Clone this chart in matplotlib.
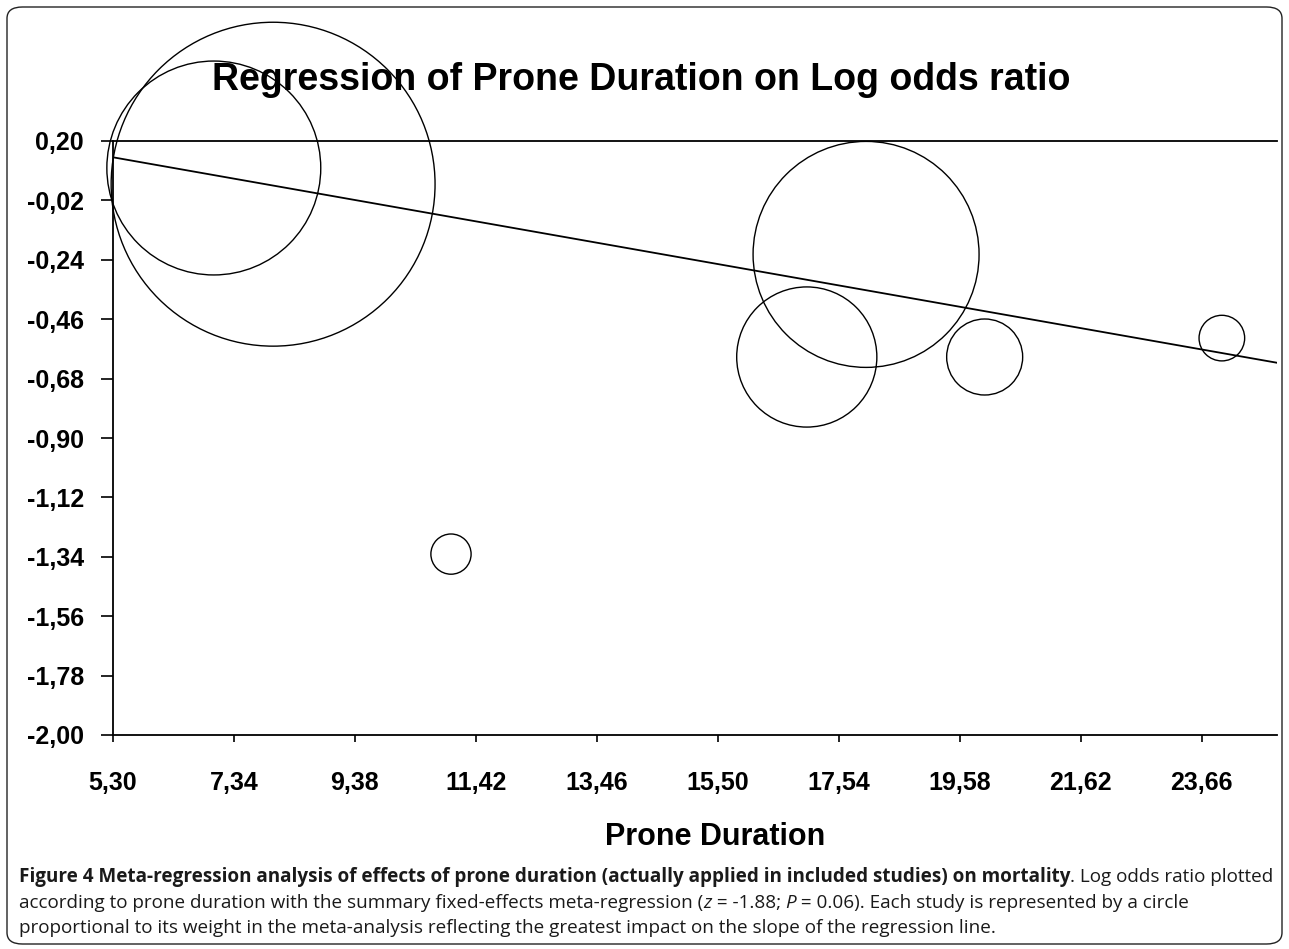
import numpy as np
import matplotlib
matplotlib.use("Agg")
import matplotlib.pyplot as plt
from matplotlib.patches import FancyBboxPatch

# ---- data ----
prone_duration = [7, 8, 11, 17, 18, 20, 24]
log_odds_ratio = [0.10, 0.04, -1.33, -0.60, -0.22, -0.60, -0.53]
study_weight_pct = [19.8, 45.4, 0.7, 8.5, 22.1, 2.5, 0.9]
x_ticks = [5.30, 7.34, 9.38, 11.42, 13.46, 15.50, 17.54, 19.58, 21.62, 23.66]
y_ticks = [0.20, -0.02, -0.24, -0.46, -0.68, -0.90, -1.12, -1.34, -1.56, -1.78, -2.00]

title = "Regression of Prone Duration on Log odds ratio"
xlabel = "Prone Duration"

W, H = 1289, 949
fig = plt.figure(figsize=(W / 100, H / 100), dpi=100)
fig.patch.set_facecolor("white")

# outer rounded border
border = FancyBboxPatch((7 / W, 5 / H), (1282 - 7) / W, (942 - 5) / H,
                        boxstyle="round,pad=0,rounding_size=0.012",
                        transform=fig.transFigure, fill=False,
                        edgecolor="#222222", linewidth=1.0)
fig.patches.append(border)

ax_left, ax_right, ax_top, ax_bottom = 113, 1277, 141, 735
ax = fig.add_axes([ax_left / W, 1 - ax_bottom / H,
                   (ax_right - ax_left) / W, (ax_bottom - ax_top) / H])
ax.set_xlim(5.30, 24.93)
ax.set_ylim(-2.00, 0.20)

ax.spines["right"].set_visible(False)
for side in ["left", "bottom", "top"]:
    ax.spines[side].set_linewidth(1.3)
    ax.spines[side].set_color("black")

x = np.array(prone_duration, dtype=float)
y = np.array(log_odds_ratio, dtype=float)
w = np.array(study_weight_pct, dtype=float)

# circles: area proportional to study weight
area_per_pct = 1198.0
ax.scatter(x, y, s=w * area_per_pct, facecolors="none", edgecolors="black",
           linewidths=1.0, clip_on=False, zorder=3)

# weighted regression line
slope, intercept = np.polyfit(x, y, 1, w=np.sqrt(w))
xl = np.array(ax.get_xlim())
ax.plot(xl, intercept + slope * xl, color="black", linewidth=1.3, zorder=2)

tick_font = dict(family="Liberation Sans", weight="bold", size=18)
ax.set_xticks(x_ticks)
ax.set_xticklabels([f"{v:.2f}".replace(".", ",") for v in x_ticks], fontdict=tick_font)
ax.set_yticks(y_ticks)
ax.set_yticklabels([f"{v:.2f}".replace(".", ",") for v in y_ticks], fontdict=tick_font)
ax.tick_params(axis="y", direction="out", length=9, width=1.2, pad=12, colors="black")
ax.tick_params(axis="x", direction="out", length=5, width=1.2, pad=21, colors="black")

fig.text(641 / W, 1 - 80 / H, title, ha="center", va="center",
         family="Liberation Sans", weight="bold", size=27)
fig.text(715 / W, 1 - 837 / H, xlabel, ha="center", va="center",
         family="Liberation Sans", weight="bold", size=22)

# caption with mixed styles
cap_font = "Open Sans"
cap_size = 13.6
lines = [
    [("Figure 4 Meta-regression analysis of effects of prone duration (actually applied in included studies) on mortality", "bold", "normal"),
     (". Log odds ratio plotted", "normal", "normal")],
    [("according to prone duration with the summary fixed-effects meta-regression (", "normal", "normal"),
     ("z", "normal", "italic"), (" = -1.88; ", "normal", "normal"),
     ("P", "normal", "italic"), (" = 0.06). Each study is represented by a circle", "normal", "normal")],
    [("proportional to its weight in the meta-analysis reflecting the greatest impact on the slope of the regression line.", "normal", "normal")],
]
line_y = [877, 903, 928]
fig.canvas.draw()
renderer = fig.canvas.get_renderer()
for segs, yy in zip(lines, line_y):
    xpos = 19.0
    for txt, weight, style in segs:
        t = fig.text(xpos / W, 1 - yy / H, txt, ha="left", va="center",
                     family=cap_font, weight=weight, style=style, size=cap_size,
                     color="#1a1a1a")
        bb = t.get_window_extent(renderer=renderer)
        xpos += bb.width

fig.savefig("out.png", dpi=100, facecolor="white")
